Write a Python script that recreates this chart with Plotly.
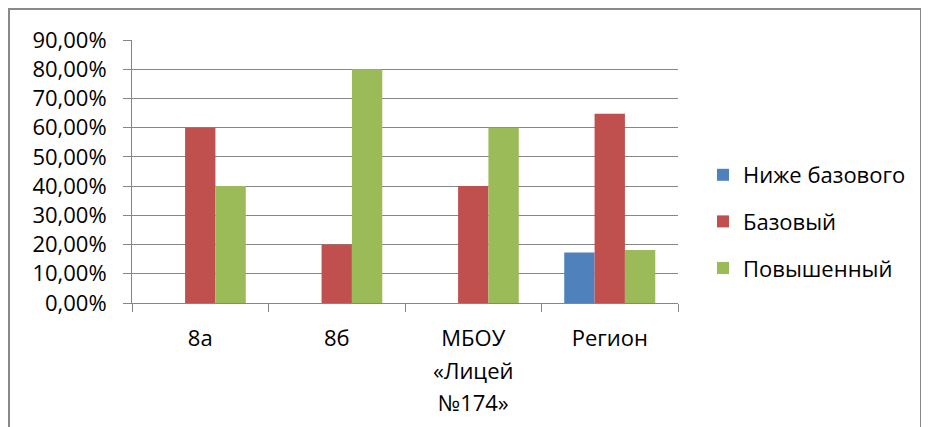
import plotly.graph_objects as go

categories = ["8а", "8б", "МБОУ «Лицей №174»", "Регион"]
category_lines = [["8а"], ["8б"], ["МБОУ", "«Лицей", "№174»"], ["Регион"]]
series_names = ["Ниже базового", "Базовый", "Повышенный"]
below_basic = [0.0, 0.0, 0.0, 0.173]
basic = [0.60, 0.20, 0.40, 0.648]
advanced = [0.40, 0.80, 0.60, 0.181]
colors = ["#4F81BD", "#C0504D", "#9BBB59"]
y_ticks = [0.0, 0.1, 0.2, 0.3, 0.4, 0.5, 0.6, 0.7, 0.8, 0.9]

FONT = "Open Sans"
fig = go.Figure()
for i, (name, vals) in enumerate(zip(series_names, [below_basic, basic, advanced])):
    fig.add_trace(go.Bar(
        x=categories, y=vals, name=name, legendgroup=f"g{i}",
        marker=dict(color=colors[i], line=dict(width=0)),
    ))

tick_text = ["<br>".join(f"<span style='font-size:22px'>{ln}</span>" for ln in lines)
             for lines in category_lines]

# page offset (body margin) of 8px
OFF = 8
W, H = 921, 419
L, T = 132 - OFF, 40 - OFF
R = W - (678 - OFF)
B = H - (303 - OFF)
pw, ph = W - L - R, H - T - B

def px_x(x):  # page coordinate -> paper
    return (x - OFF - L) / pw

def px_y(y):
    return (H - B - (y - OFF)) / ph

fig.update_layout(
    width=W, height=H,
    margin=dict(l=L, r=R, t=T, b=B, pad=0, autoexpand=False),
    paper_bgcolor="white", plot_bgcolor="white",
    barmode="group", bargap=0.333, bargroupgap=0,
    separators=", ",
    font=dict(family=FONT, size=22, color="#000000"),
    showlegend=True,
    legend=dict(
        x=px_x(703), xanchor="left", y=px_y(154), yanchor="top",
        traceorder="grouped", tracegroupgap=15,
        font=dict(family=FONT, size=22, color="#000000"),
        bgcolor="rgba(0,0,0,0)", borderwidth=0,
    ),
    xaxis=dict(
        type="category", automargin=False,
        tickmode="array", tickvals=categories, ticktext=tick_text,
        showline=True, linecolor="#868686", linewidth=1,
        ticks="outside", tickson="boundaries", ticklen=8, tickcolor="#868686",
        showgrid=False, ticklabelstandoff=12,
        tickfont=dict(family=FONT, size=25, color="#000000"),
    ),
    yaxis=dict(
        range=[0, 0.9], tickvals=y_ticks, tickformat=".2%", automargin=False,
        showline=True, linecolor="#868686", linewidth=1,
        ticks="outside", ticklen=8, tickcolor="#868686",
        showgrid=True, gridcolor="#868686", gridwidth=1,
        zeroline=False, ticklabelstandoff=12,
        tickfont=dict(family=FONT, size=22, color="#000000"),
    ),
    shapes=[dict(
        type="rect", xref="paper", yref="paper",
        x0=px_x(9), x1=px_x(921), y0=px_y(470), y1=px_y(9),
        line=dict(color="#898989", width=2), fillcolor="rgba(0,0,0,0)",
        layer="below",
    )],
)

fig.write_html("out.html")
